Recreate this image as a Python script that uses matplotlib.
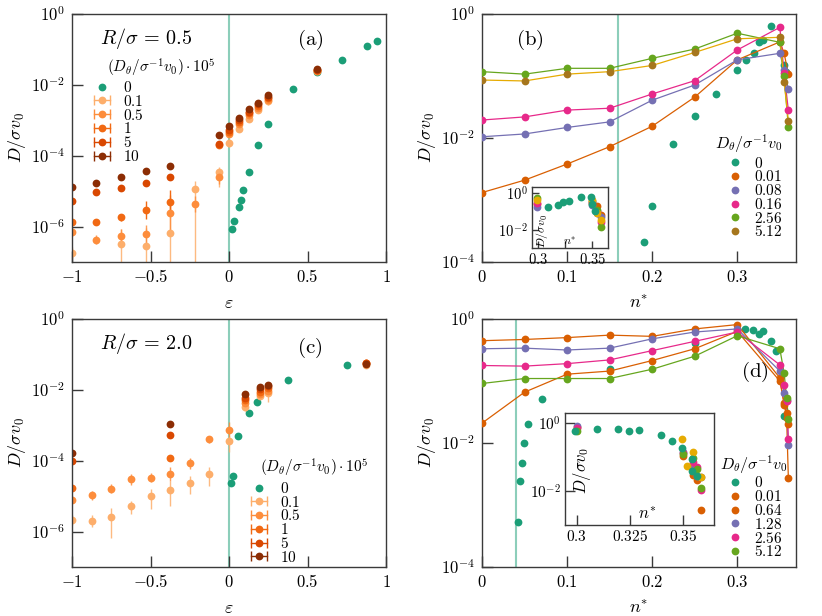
import numpy as np
import matplotlib
matplotlib.use('Agg')
import matplotlib.pyplot as plt
from matplotlib.lines import Line2D
from matplotlib.legend_handler import HandlerLine2D
from matplotlib.ticker import FixedLocator, FuncFormatter, NullLocator

plt.rcParams['mathtext.fontset'] = 'cm'
plt.rcParams['font.family'] = ['DejaVu Serif']

nan = np.nan

# ---- colours
TEAL = '#1b9e77'
ORANGE = '#d95f02'
PURPLE = '#7570b3'
PINK = '#e7298a'
GREEN = '#66a61e'
YELLOW = '#e6ab02'
BROWN = '#a6761d'
SEQ = {'0.1': '#fdae6b', '0.5': '#fd8d3c', '1': '#f16913', '5': '#d94801', '10': '#8c2d04'}

# ---- panel (a): R/sigma = 0.5, log10(D/sigma v0) vs epsilon
eps_a = [-1, -0.844, -0.6875, -0.531, -0.375, -0.219, -0.0625, 0, 0.0625, 0.125, 0.1875, 0.25, 0.5625]
a_10 = [-4.88, -4.77, -4.60, -4.43, -4.29, nan, -3.42, -3.16, -2.93, -2.69, -2.50, -2.29, -1.55]
a_5 = [-5.27, -5.03, -4.92, -4.76, -4.61, nan, -3.67, -3.27, -3.00, -2.76, -2.55, -2.34, -1.57]
a_1 = [-5.88, -5.86, -5.74, -5.54, -5.31, nan, -3.70, -3.33, -3.05, -2.80, -2.60, -2.38, -1.58]
a_05 = [-6.16, -6.37, -6.27, -6.20, -5.61, -5.35, -4.60, -3.38, -3.10, -2.86, -2.65, -2.42, -1.60]
a_01 = [-6.74, nan, -6.48, -6.55, -6.18, -4.95, -4.47, -3.63, -3.24, -2.95, -2.70, -2.46, -1.62]
# error bars in decades (lower, upper)
a_10_lo = [0.04] * 13
a_10_hi = [0.04] * 13
a_5_lo = [0.05] * 13
a_5_hi = [0.05] * 13
a_1_lo = [0.06, 0.06, 0.10, 0.25, 0.35, nan, 0.08, 0.06, 0.06, 0.06, 0.06, 0.06, 0.05]
a_1_hi = [0.06, 0.06, 0.10, 0.25, 0.35, nan, 0.08, 0.06, 0.06, 0.06, 0.06, 0.06, 0.05]
a_05_lo = [0.12, 0.12, 0.20, 0.30, 0.60, 0.25, 0.20, 0.08, 0.08, 0.08, 0.08, 0.08, 0.06]
a_05_hi = [0.12, 0.12, 0.20, 0.25, 0.50, 0.20, 0.12, 0.08, 0.08, 0.08, 0.08, 0.08, 0.06]
a_01_lo = [0.15, nan, 3.0, 3.0, 3.0, 3.0, 0.40, 0.12, 0.10, 0.10, 0.10, 0.10, 0.06]
a_01_hi = [0.15, nan, 0.40, 0.50, 0.90, 0.25, 0.15, 0.10, 0.10, 0.10, 0.10, 0.10, 0.06]
eps_a0 = [0.017, 0.032, 0.064, 0.076, 0.091, 0.125, 0.1875, 0.25, 0.41, 0.5625, 0.72, 0.877, 0.94]
a_0 = [-6.08, -5.85, -5.44, -5.26, -4.97, -4.47, -3.69, -3.11, -2.11, -1.65, -1.30, -0.91, -0.75]

# ---- panel (c): R/sigma = 2.0
eps_c = [-1, -0.875, -0.75, -0.625, -0.5, -0.375, -0.25, -0.125, 0, 0.1, 0.2, 0.25, 0.875]
c_10 = [-3.78, nan, nan, nan, nan, -2.95, nan, nan, nan, -2.11, -1.91, -1.86, -1.27]
c_5 = [-4.01, nan, nan, nan, nan, -3.28, nan, nan, nan, -2.22, -1.98, -1.90, -1.24]
c_1 = [-4.76, nan, nan, nan, nan, -3.91, nan, nan, nan, -2.30, -2.05, -1.95, -1.23]
c_05 = [-5.10, -4.98, -4.79, -4.53, -4.48, -4.38, -4.07, -3.40, -3.12, -2.38, -2.13, -2.03, -1.25]
c_01 = [-5.67, -5.71, -5.58, -5.29, -5.00, -4.82, -4.63, -4.37, -3.45, -2.48, -2.16, -2.10, -1.30]
c_10_lo = [0.06] * 13
c_10_hi = [0.06] * 13
c_5_lo = [0.06] * 13
c_5_hi = [0.06] * 13
c_1_lo = [0.06] * 13
c_1_hi = [0.06] * 13
c_05_lo = [0.10, 0.12, 0.12, 0.15, 0.12, 0.20, 0.15, 0.10, 0.20, 0.10, 0.10, 0.10, 0.08]
c_05_hi = [0.10, 0.12, 0.12, 0.15, 0.12, 0.20, 0.15, 0.10, 0.20, 0.10, 0.10, 0.10, 0.08]
c_01_lo = [0.15, 0.17, 0.60, 0.20, 0.37, 0.45, 0.30, 0.35, 0.30, 0.12, 0.10, 0.25, 0.08]
c_01_hi = [0.15, 0.17, 0.25, 0.15, 0.20, 0.25, 0.20, 0.20, 0.15, 0.10, 0.10, 0.10, 0.08]
eps_c0 = [0.0127, 0.023, 0.059, 0.128, 0.176, 0.378, 0.75]
c_0 = [-4.63, -4.42, -3.31, -2.65, -2.33, -1.72, -1.30]

# ---- panel (b): D vs n*, R/sigma = 0.5
n_b = [0, 0.05, 0.1, 0.15, 0.2, 0.25, 0.3, 0.35, 0.355, 0.36]
b_001 = [-2.88, -2.68, -2.42, -2.14, -1.81, -1.34, -0.74, -0.45, -0.63, -0.97]
b_008 = [-1.98, -1.935, -1.83, -1.74, -1.39, -1.145, -0.74, -0.634, -0.90, -1.21]
b_016 = [-1.71, -1.66, -1.55, -1.52, -1.29, -1.075, -0.58, -0.215, -0.95, -1.55]
b_256 = [-0.93, -0.97, -0.876, -0.876, -0.715, -0.565, -0.31, -0.457, -1.00, -1.82]
b_512 = [-1.065, -1.08, -0.97, -0.93, -0.83, -0.62, -0.40, -0.376, -1.09, -1.72]
n_b0 = [0.19, 0.2, 0.225, 0.25, 0.275, 0.3, 0.31, 0.32, 0.325, 0.33, 0.34, 0.3545, 0.357]
b_0 = [-3.67, -3.09, -2.10, -1.64, -1.29, -0.90, -0.74, -0.63, -0.45, -0.42, -0.20, -0.82, -0.93]
# inset (b)
n_bi0 = [0.3096, 0.3188, 0.3235, 0.329, 0.3395, 0.3488, 0.3495, 0.3528]
bi_0 = [-0.79, -0.68, -0.51, -0.47, -0.26, -0.25, -0.60, -1.00]
n_bi = [0.2988, 0.3495, 0.3545, 0.358]
bi_orange = [-0.62, -0.55, -0.74, -1.20]
bi_purple = [-0.80, -0.70, -1.10, -1.30]
bi_pink = [-0.55, -0.50, -1.00, -1.60]
bi_green = [-0.30, -0.45, -0.95, -1.88]
bi_yellow = [-0.40, -0.40, -1.12, -1.50]

# ---- panel (d): D vs n*, R/sigma = 2.0
n_d = [0, 0.05, 0.1, 0.15, 0.2, 0.25, 0.3, 0.35, 0.355, 0.358, 0.36]
d_001 = [-1.68, -1.18, -0.89, -0.84, -0.67, -0.48, -0.20, -1.00, -1.35, -1.60, -2.56]
d_064 = [-0.35, -0.33, -0.30, -0.26, -0.28, -0.16, -0.09, -0.95, -1.38, -1.52, -1.70]
d_128 = [-0.48, -0.47, -0.50, -0.47, -0.32, -0.21, -0.16, -0.84, -1.20, -1.30, -2.03]
d_256 = [-0.75, -0.76, -0.72, -0.66, -0.51, -0.36, -0.21, -0.74, -1.06, -1.33, -1.94]
d_512 = [-1.04, -0.96, -0.96, -0.96, -0.81, -0.60, -0.27, -0.48, -0.87, -1.27, -1.61]
n_d0 = [0.0428, 0.0447, 0.0475, 0.0498, 0.0545, 0.07, 0.15, 0.25, 0.309, 0.319, 0.326, 0.33, 0.34, 0.345, 0.3545]
d_0 = [-3.28, -2.62, -2.32, -2.00, -1.70, -1.29, -0.80, -0.38, -0.16, -0.17, -0.24, -0.19, -0.35, -0.52, -1.57]
# inset (d)
n_di0 = [0.2995, 0.3097, 0.3195, 0.3244, 0.3294, 0.3396, 0.3447, 0.3497, 0.3543, 0.3543, 0.3564]
di_0 = [-0.23, -0.18, -0.18, -0.24, -0.21, -0.35, -0.52, -0.73, -1.06, -1.40, -1.55]
n_di = [0.3, 0.35, 0.3545, 0.3565, 0.3585]
di_orange = [-0.12, -0.96, -1.53, -1.68, -2.56]
di_purple = [-0.08, -0.85, -1.30, -1.55, -1.60]
di_pink = [-0.15, -0.87, -1.13, -1.28, -1.97]
di_green = [-0.23, -0.90, -1.04, -1.35, -1.91]
n_di_y = [0.3497, 0.3545, 0.352, 0.3585]
di_yellow = [-0.48, -0.84, -1.27, -1.60]

FRAME = '#3a3a3a'
MS = 5.6
LEG_FS = 11


def num_fmt(v, pos):
    return '$%g$' % v


def log_fmt(v, pos):
    return '$10^{%d}$' % int(round(np.log10(v)))


def style(ax, xt, yt, fs=12, ticklen=8):
    for sp in ax.spines.values():
        sp.set_color(FRAME)
        sp.set_linewidth(1.0)
    ax.set_yscale('log')
    ax.xaxis.set_major_locator(FixedLocator(xt))
    ax.yaxis.set_major_locator(FixedLocator(yt))
    ax.yaxis.set_minor_locator(NullLocator())
    ax.xaxis.set_minor_locator(NullLocator())
    ax.xaxis.set_major_formatter(FuncFormatter(num_fmt))
    ax.yaxis.set_major_formatter(FuncFormatter(log_fmt))
    ax.tick_params(direction='in', length=ticklen, width=1, color=FRAME,
                   labelsize=fs, pad=5)


def lin(v):
    return 10 ** np.asarray(v, dtype=float)


def err_plot(ax, x, logv, lo, hi, col, ecol_alpha=1.0):
    y = lin(logv)
    lo = np.asarray(lo, dtype=float)
    hi = np.asarray(hi, dtype=float)
    yerr = [y - y * 10 ** (-lo), y * 10 ** hi - y]
    eb = ax.errorbar(x, y, yerr=yerr, fmt='o', color=col, ms=MS, mew=0,
                     elinewidth=1.0, capsize=4, capthick=1.0)
    for art in eb[1] + eb[2]:
        art.set_alpha(ecol_alpha)


def err_handle(col, hmap):
    bar = Line2D([], [], color=col, lw=1.0, marker='|', ms=7, mew=1.0)
    dot = Line2D([], [], color=col, ls='none', marker='o', ms=MS, mew=0)
    hmap[bar] = HandlerLine2D(numpoints=2, marker_pad=0.05)
    return (bar, dot)


def dot_handle(col):
    return Line2D([], [], color=col, ls='none', marker='o', ms=MS, mew=0)


fig = plt.figure(figsize=(8.22, 6.16), dpi=100)
W, H = 822.0, 616.0


def add_axes(l, t, r, b):
    return fig.add_axes([l / W, 1 - b / H, (r - l) / W, (b - t) / H])


ax_a = add_axes(72, 14, 386, 262)
ax_b = add_axes(482, 14, 796, 262)
ax_c = add_axes(72, 319, 386, 567)
ax_d = add_axes(482, 319, 796, 567)

# ---------------- (a) and (c)
for ax, eps0, v0, rows, rtxt, lab, labpos, titpos, legpos in [
    (ax_a, eps_a0, a_0,
     [(eps_a, a_01, a_01_lo, a_01_hi, '0.1'), (eps_a, a_05, a_05_lo, a_05_hi, '0.5'),
      (eps_a, a_1, a_1_lo, a_1_hi, '1'), (eps_a, a_5, a_5_lo, a_5_hi, '5'),
      (eps_a, a_10, a_10_lo, a_10_hi, '10')],
     r'$R/\sigma\,=\,0.5$', '(a)', (0.758, 0.895), (0.111, 0.782), (0.067, 0.734)),
    (ax_c, eps_c0, c_0,
     [(eps_c, c_01, c_01_lo, c_01_hi, '0.1'), (eps_c, c_05, c_05_lo, c_05_hi, '0.5'),
      (eps_c, c_1, c_1_lo, c_1_hi, '1'), (eps_c, c_5, c_5_lo, c_5_hi, '5'),
      (eps_c, c_10, c_10_lo, c_10_hi, '10')],
     r'$R/\sigma\,=\,2.0$', '(c)', (0.758, 0.883), (0.599, 0.399), (0.567, 0.347)),
]:
    ax.axvline(0, color=TEAL, alpha=0.5, lw=1.5, zorder=1)
    ax.plot(eps0, lin(v0), 'o', color=TEAL, ms=MS, mew=0, zorder=2)
    for x, v, lo, hi, key in rows:
        err_plot(ax, x, v, lo, hi, SEQ[key], 0.85 if key in ('0.1', '0.5') else 1.0)
    ax.set_xlim(-1, 1)
    ax.set_ylim(1e-7, 1)
    style(ax, [-1, -0.5, 0, 0.5, 1], [1e0, 1e-2, 1e-4, 1e-6])
    ax.set_xlabel(r'$\varepsilon$', fontsize=13, labelpad=6)
    ax.set_ylabel(r'$D/\sigma v_0$', fontsize=13, labelpad=2)
    ax.text(0.09, 0.9, rtxt, transform=ax.transAxes, fontsize=14.5,
            ha='left', va='center')
    ax.text(labpos[0], labpos[1], r'$\mathrm{%s}$' % lab, transform=ax.transAxes,
            fontsize=15, ha='center', va='center')
    ax.text(titpos[0], titpos[1], r'$(D_\theta/\sigma^{-1}v_0)\cdot 10^5$',
            transform=ax.transAxes, fontsize=LEG_FS, ha='left', va='center')
    hmap = {}
    handles = [dot_handle(TEAL)] + [err_handle(SEQ[k], hmap) for k in ('0.1', '0.5', '1', '5', '10')]
    labels = ['$0$', '$0.1$', '$0.5$', '$1$', '$5$', '$10$']
    ax.legend(handles, labels, handler_map=hmap, loc='upper left',
              bbox_to_anchor=legpos, frameon=False, fontsize=LEG_FS,
              handlelength=1.15, handletextpad=0.8, labelspacing=-0.08,
              borderpad=0, borderaxespad=0)

# ---------------- (b) and (d)
b_rows = [(b_001, ORANGE, ORANGE, '$0.01$'), (b_008, PURPLE, PURPLE, '$0.08$'),
          (b_016, PINK, PINK, '$0.16$'), (b_256, GREEN, GREEN, '$2.56$'),
          (b_512, BROWN, YELLOW, '$5.12$')]
d_rows = [(d_001, ORANGE, ORANGE, '$0.01$'), (d_064, ORANGE, ORANGE, '$0.64$'),
          (d_128, PURPLE, PURPLE, '$1.28$'), (d_256, PINK, PINK, '$2.56$'),
          (d_512, GREEN, GREEN, '$5.12$')]

for ax, nx, rows, n0, v0, vline, lab, labpos, titpos, legpos in [
    (ax_b, n_b, b_rows, n_b0, b_0, 0.16, '(b)', (0.153, 0.895), (0.742, 0.476), (0.787, 0.429)),
    (ax_d, n_d, d_rows, n_d0, d_0, 0.04, '(d)', (0.87, 0.786), (0.758, 0.414), (0.787, 0.369)),
]:
    ax.axvline(vline, color=TEAL, alpha=0.5, lw=1.5, zorder=1)
    ax.plot(n0, lin(v0), 'o', color=TEAL, ms=MS, mew=0, zorder=2)
    for v, mc, lc, _ in rows:
        ax.plot(nx, lin(v), '-', color=lc, lw=0.9, zorder=3)
        ax.plot(nx, lin(v), 'o', color=mc, ms=MS, mew=0, zorder=4)
    ax.set_xlim(0, 0.369)
    ax.set_ylim(1e-4, 1)
    style(ax, [0, 0.1, 0.2, 0.3], [1e0, 1e-2, 1e-4])
    ax.set_xlabel(r'$n^{*}$', fontsize=13, labelpad=6)
    ax.set_ylabel(r'$D/\sigma v_0$', fontsize=13, labelpad=2)
    ax.text(labpos[0], labpos[1], r'$\mathrm{%s}$' % lab, transform=ax.transAxes,
            fontsize=15, ha='center', va='center')
    ax.text(titpos[0], titpos[1], r'$D_\theta/\sigma^{-1}v_0$',
            transform=ax.transAxes, fontsize=LEG_FS + 0.5, ha='left', va='center')
    handles = [dot_handle(TEAL)] + [dot_handle(r[1]) for r in rows]
    labels = ['$0$'] + [r[3] for r in rows]
    ax.legend(handles, labels, loc='upper left', bbox_to_anchor=legpos,
              frameon=False, fontsize=LEG_FS, handlelength=0.8, handletextpad=0.8,
              labelspacing=-0.08, borderpad=0, borderaxespad=0)

# ---------------- insets
in_b = add_axes(532, 187, 608, 248)
in_d = add_axes(565, 413, 714, 525)

for ax, x0, v0, xi, rows, yx, yv, ylc, xlc, fs, lfs, tl in [
    (in_b, n_bi0, bi_0, n_bi,
     [(bi_orange, ORANGE), (bi_purple, PURPLE), (bi_pink, PINK), (bi_green, GREEN)],
     n_bi, bi_yellow, (0.24, 0.28), (0.5, 0.22), 10.5, 8.5, 5),
    (in_d, n_di0, di_0, n_di,
     [(di_orange, ORANGE), (di_purple, PURPLE), (di_pink, PINK), (di_green, GREEN)],
     n_di_y, di_yellow, (0.19, 0.49), (0.55, 0.17), 11, 12, 7),
]:
    ax.set_facecolor('white')
    for v, c in rows:
        ax.plot(xi, lin(v), 'o', color=c, ms=MS, mew=0, zorder=3)
    ax.plot(yx, lin(yv), 'o', color=YELLOW, ms=MS, mew=0, zorder=3)
    ax.plot(x0, lin(v0), 'o', color=TEAL, ms=MS, mew=0, zorder=4)
    ax.set_xlim(0.2946, 0.3645)
    ax.set_ylim(1e-3, 2)
    style(ax, [0.3, 0.325, 0.35], [1e0, 1e-2], fs=fs, ticklen=tl)
    ax.tick_params(pad=3)
    ax.set_ylabel(r'$D/\sigma v_0$', fontsize=lfs)
    ax.set_xlabel(r'$n^{*}$', fontsize=lfs)
    ax.yaxis.set_label_coords(*ylc)
    ax.xaxis.set_label_coords(*xlc)

in_b.xaxis.set_major_formatter(FuncFormatter(
    lambda v, p: '' if abs(v - 0.325) < 1e-6 else num_fmt(v, p)))

fig.savefig('out.png', dpi=100)
